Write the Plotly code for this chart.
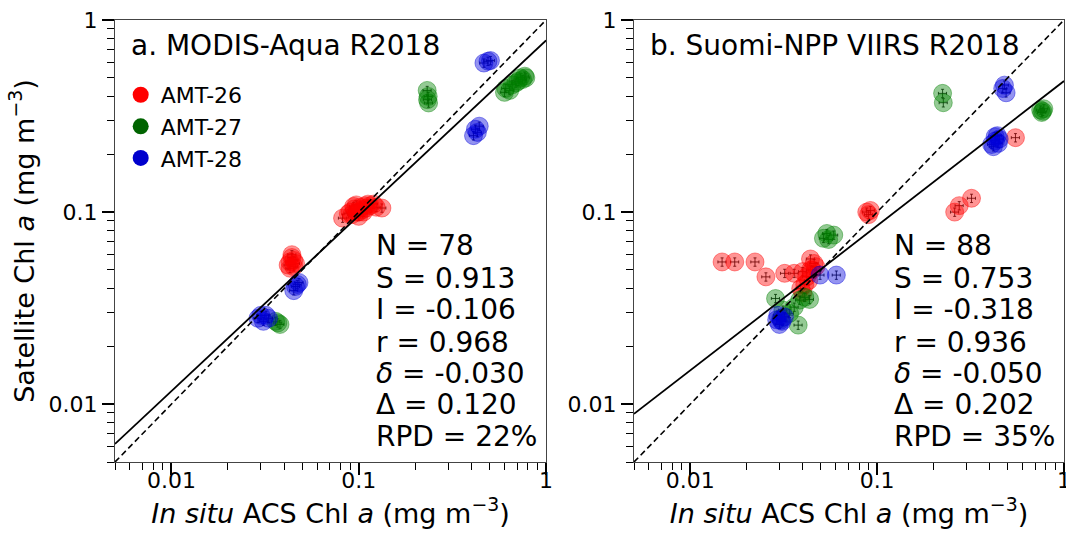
import numpy as np
import plotly.graph_objects as go

# ---------------- data ----------------
# Panel a: MODIS-Aqua R2018
a_red_x = [0.082, 0.088, 0.09, 0.092, 0.095, 0.097, 0.1, 0.1, 0.102, 0.105, 0.108, 0.11, 0.112, 0.115,
           0.12, 0.124, 0.133, 0.094, 0.098, 0.106,
           0.042, 0.043, 0.044, 0.045, 0.046, 0.044, 0.043, 0.045]
a_red_y = [0.093, 0.098, 0.1, 0.097, 0.104, 0.109, 0.1, 0.095, 0.106, 0.103, 0.108, 0.105, 0.11, 0.108,
           0.11, 0.106, 0.105, 0.107, 0.1, 0.1,
           0.053, 0.055, 0.058, 0.052, 0.054, 0.06, 0.051, 0.056]
a_green_x = [0.232, 0.235, 0.236, 0.233, 0.6, 0.61, 0.64, 0.66, 0.69, 0.71, 0.73, 0.75, 0.77, 0.78,
             0.036, 0.037, 0.038]
a_green_y = [0.43, 0.40, 0.37, 0.385, 0.42, 0.44, 0.43, 0.46, 0.47, 0.48, 0.5, 0.49, 0.51, 0.5,
             0.027, 0.0265, 0.026]
a_blue_x = [0.466, 0.49, 0.505, 0.41, 0.42, 0.43, 0.44, 0.045, 0.046, 0.047, 0.048,
            0.029, 0.03, 0.031, 0.032, 0.033]
a_blue_y = [0.597, 0.61, 0.615, 0.25, 0.27, 0.26, 0.28, 0.039, 0.041, 0.042, 0.043,
            0.028, 0.029, 0.027, 0.029, 0.028]

# Panel b: Suomi-NPP VIIRS R2018
b_red_x = [0.088, 0.09, 0.092, 0.26, 0.275, 0.32, 0.55, 0.0148, 0.0173, 0.0222, 0.0254, 0.032, 0.036,
           0.04, 0.044, 0.046, 0.045, 0.042, 0.041, 0.043, 0.047, 0.039, 0.04, 0.044]
b_red_y = [0.1, 0.097, 0.102, 0.1, 0.108, 0.118, 0.244, 0.055, 0.055, 0.055, 0.046, 0.048, 0.048,
           0.049, 0.057, 0.054, 0.05, 0.046, 0.042, 0.044, 0.052, 0.04, 0.038, 0.05]
b_green_x = [0.224, 0.226, 0.75, 0.77, 0.78, 0.76, 0.0516, 0.0538, 0.0586, 0.055, 0.0286, 0.0385,
             0.0435, 0.0313, 0.034, 0.0378, 0.0305, 0.041, 0.036]
b_green_y = [0.415, 0.371, 0.34, 0.335, 0.345, 0.33, 0.073, 0.0774, 0.0759, 0.072, 0.0355, 0.0348,
             0.0351, 0.0309, 0.0297, 0.0258, 0.0279, 0.036, 0.032]
b_blue_x = [0.48, 0.49, 0.47, 0.428, 0.445, 0.419, 0.43, 0.44, 0.41, 0.45, 0.0495, 0.0605,
            0.0306, 0.0319, 0.0294, 0.03, 0.031, 0.029]
b_blue_y = [0.458, 0.418, 0.44, 0.247, 0.228, 0.219, 0.235, 0.25, 0.225, 0.24, 0.047, 0.047,
            0.0274, 0.0285, 0.029, 0.026, 0.027, 0.0275]

cruises = ["AMT-26", "AMT-27", "AMT-28"]
colors = ["#ff0000", "#006400", "#0000cd"]
fill_colors = ["rgba(255,0,0,0.42)", "rgba(0,128,0,0.42)", "rgba(0,0,220,0.42)"]

titles = ["a. MODIS-Aqua R2018", "b. Suomi-NPP VIIRS R2018"]
stats_a = ["N = 78", "S = 0.913", "I = -0.106", "r = 0.968", "<i>δ</i> = -0.030", "Δ = 0.120", "RPD = 22%"]
stats_b = ["N = 88", "S = 0.753", "I = -0.318", "r = 0.936", "<i>δ</i> = -0.050", "Δ = 0.202", "RPD = 35%"]
slopes = [0.913, 0.753]
intercepts = [-0.106, -0.318]

axis_min, axis_max = 0.005, 1.0
major_ticks = [0.01, 0.1, 1]
major_text = ["0.01", "0.1", "1"]
minor_ticks = [0.005, 0.006, 0.007, 0.008, 0.009,
               0.02, 0.03, 0.04, 0.05, 0.06, 0.07, 0.08, 0.09,
               0.2, 0.3, 0.4, 0.5, 0.6, 0.7, 0.8, 0.9]

panels = [
    [(a_red_x, a_red_y), (a_green_x, a_green_y), (a_blue_x, a_blue_y)],
    [(b_red_x, b_red_y), (b_green_x, b_green_y), (b_blue_x, b_blue_y)],
]

FONT = "DejaVu Sans"
fig = go.Figure()

line_x = np.array([axis_min, axis_max])
for p in range(2):
    xa = "x" if p == 0 else "x2"
    ya = "y" if p == 0 else "y2"
    for k, (xs, ys) in enumerate(panels[p]):
        err = dict(type="percent", value=5, color="black", thickness=0.8, width=1.5)
        fig.add_trace(go.Scatter(
            x=xs, y=ys, mode="markers", xaxis=xa, yaxis=ya,
            marker=dict(size=18, color=fill_colors[k], line=dict(width=1, color=fill_colors[k])),
            error_x=err, error_y=err, showlegend=False, hoverinfo="skip"))
    # 1:1 line
    fig.add_trace(go.Scatter(x=line_x, y=line_x, mode="lines", xaxis=xa, yaxis=ya,
                             line=dict(color="black", width=1.6, dash="6px,3.5px"),
                             showlegend=False, hoverinfo="skip"))
    # regression line in log space
    reg_y = 10 ** (slopes[p] * np.log10(line_x) + intercepts[p])
    fig.add_trace(go.Scatter(x=line_x, y=reg_y, mode="lines", xaxis=xa, yaxis=ya,
                             line=dict(color="black", width=1.8),
                             showlegend=False, hoverinfo="skip"))

# legend entries
for k in range(3):
    fig.add_trace(go.Scatter(x=[None], y=[None], mode="markers", name=cruises[k],
                             legendgroup=cruises[k],
                             marker=dict(size=18, color=colors[k]), xaxis="x", yaxis="y"))

axis_common = dict(
    type="log", range=[np.log10(axis_min), np.log10(axis_max)],
    tickmode="array", tickvals=major_ticks, ticktext=major_text,
    ticks="outside", ticklen=12, tickwidth=1.5, tickcolor="black",
    showline=True, linecolor="#444", linewidth=1, mirror=True,
    showgrid=False, zeroline=False, automargin=False, ticklabeloverflow="allow",
    tickfont=dict(family=FONT, size=22, color="black"),
    minor=dict(tickmode="array", tickvals=minor_ticks, ticks="outside", ticklen=7,
               tickwidth=1.2, tickcolor="black", showgrid=False),
)
xtitle = dict(text="<i>In situ</i> ACS Chl <i>a</i> (mg m<sup>−3</sup>)",
              font=dict(family=FONT, size=27, color="black"), standoff=6)
ytitle = dict(text="Satellite Chl <i>a</i> (mg m<sup>−3</sup>)",
              font=dict(family=FONT, size=27, color="black"), standoff=6)

fig.update_layout(
    width=1066, height=536,
    margin=dict(l=115, r=2, t=20, b=74),
    plot_bgcolor="white", paper_bgcolor="white",
    font=dict(family=FONT, color="black"),
    xaxis=dict(axis_common, domain=[0, 0.4542], anchor="y", title=xtitle, ticklabelstandoff=-13),
    yaxis=dict(axis_common, domain=[0, 1], anchor="x", title=ytitle),
    xaxis2=dict(axis_common, domain=[0.5469, 1], anchor="y2", title=xtitle, ticklabelstandoff=-13),
    yaxis2=dict(axis_common, domain=[0, 1], anchor="x2"),
    legend=dict(x=0.006, y=0.878, xanchor="left", yanchor="top",
                font=dict(family=FONT, size=22, color="black"),
                bgcolor="rgba(0,0,0,0)", itemsizing="trace", tracegroupgap=0),
    showlegend=True,
)

# panel titles and statistics
stat_y = [0.489, 0.416, 0.344, 0.271, 0.201, 0.129, 0.057]
for p, (xr, yr) in enumerate([("x domain", "y domain"), ("x2 domain", "y2 domain")]):
    fig.add_annotation(text=titles[p], xref=xr, yref=yr, x=0.032, y=0.943,
                       xanchor="left", yanchor="middle", showarrow=False,
                       font=dict(family=FONT, size=28, color="black"))
    stats = stats_a if p == 0 else stats_b
    for i, s in enumerate(stats):
        fig.add_annotation(text=s, xref=xr, yref=yr, x=0.6, y=stat_y[i],
                           xanchor="left", yanchor="middle", showarrow=False,
                           font=dict(family=FONT, size=28, color="black"))

fig.write_html("out.html")
